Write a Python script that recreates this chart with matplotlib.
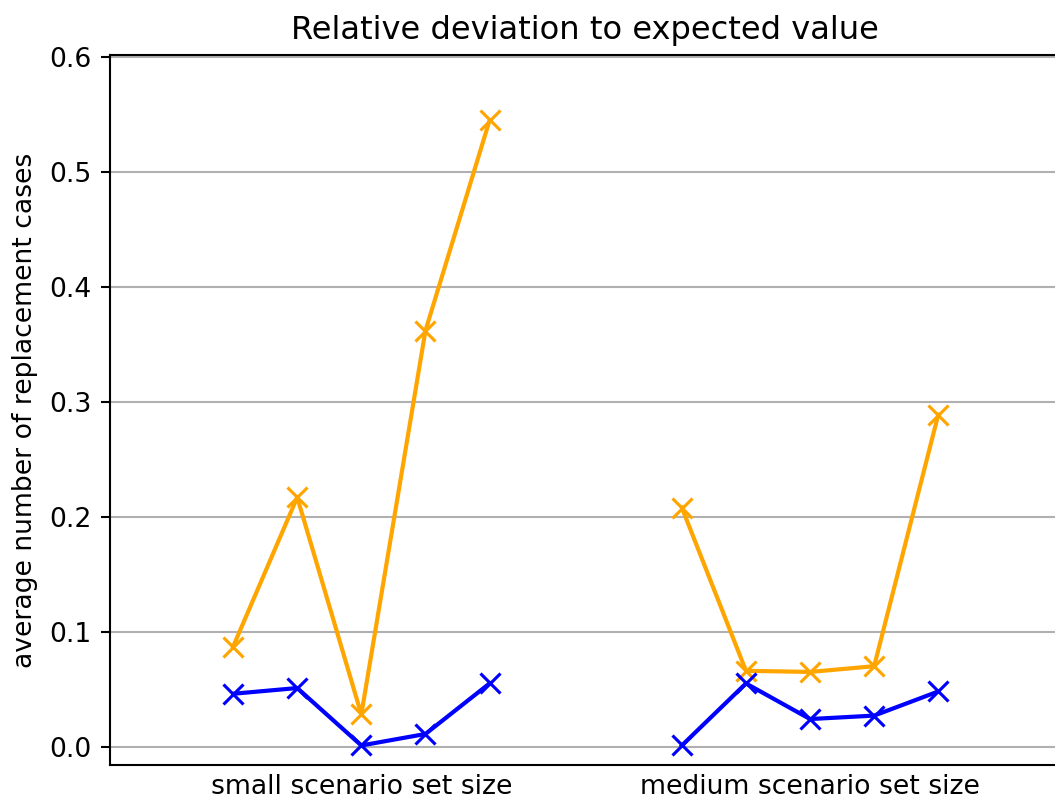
import numpy as np
import matplotlib.pyplot as plt

groups = ["small scenario set size", "medium scenario set size"]
small_x = [0, 1, 2, 3, 4]
medium_x = [7, 8, 9, 10, 11]

small_orange = [0.087, 0.217, 0.028, 0.362, 0.545]
small_blue = [0.046, 0.051, 0.001, 0.011, 0.055]
medium_orange = [0.208, 0.066, 0.065, 0.070, 0.289]
medium_blue = [0.001, 0.055, 0.024, 0.027, 0.048]

fig = plt.figure(figsize=(1055 / 150, 800 / 150), dpi=150)
ax = fig.add_axes([0.1043, 0.04375, 0.9005, 0.8875])

ax.plot(small_x, small_orange, color='orange', marker='x', lw=2, ms=9.5, mew=1.5)
ax.plot(small_x, small_blue, color='blue', marker='x', lw=2, ms=9.5, mew=1.5)
ax.plot(medium_x, medium_orange, color='orange', marker='x', lw=2, ms=9.5, mew=1.5)
ax.plot(medium_x, medium_blue, color='blue', marker='x', lw=2, ms=9.5, mew=1.5)

ax.set_xticks([np.mean(small_x), np.mean(medium_x)])
ax.set_xticklabels(groups, fontsize=12.8)
ax.tick_params(axis='x', length=0, pad=4.5)
ax.tick_params(axis='y', labelsize=12.8, length=4.5, width=1, pad=4.5)
ax.set_xlim(-1.92, 12.9)
ax.set_ylim(-0.016, 0.602)
ax.yaxis.grid(True, color='#b0b0b0', lw=1)
ax.set_axisbelow(True)
for s in ax.spines.values():
    s.set_linewidth(1)
ax.spines['right'].set_visible(False)
ax.set_ylabel("average number of replacement cases", fontsize=12.8, labelpad=5)
ax.set_title("Relative deviation to expected value", fontsize=15.4, pad=7.7)

fig.savefig("out.png", dpi=150)
